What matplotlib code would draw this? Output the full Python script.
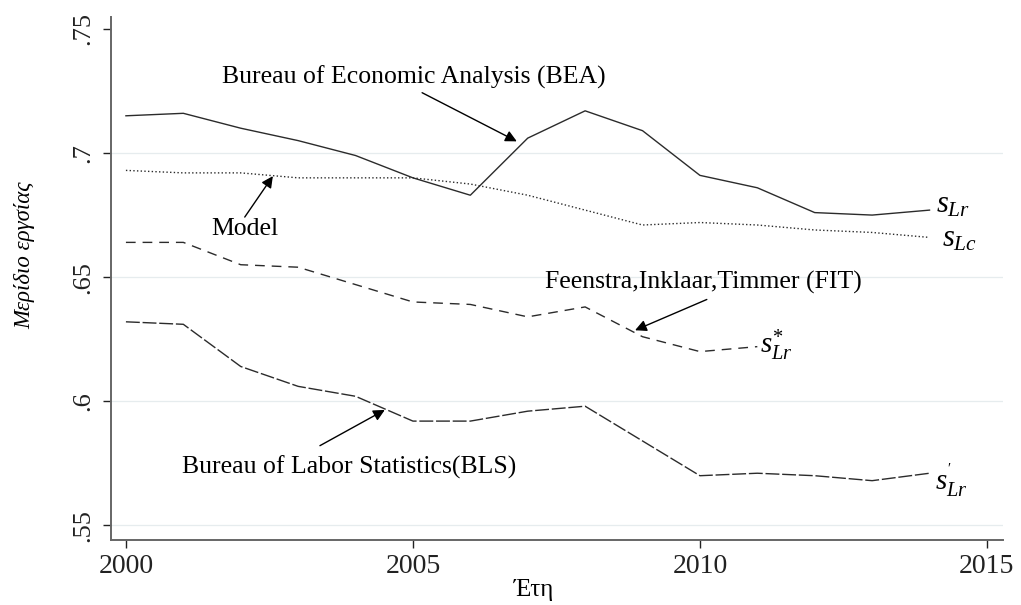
import numpy as np
import matplotlib
matplotlib.use("Agg")
import matplotlib.pyplot as plt

plt.rcParams['font.family'] = ['Liberation Serif', 'DejaVu Serif']
plt.rcParams['mathtext.fontset'] = 'custom'
plt.rcParams['mathtext.rm'] = 'Liberation Serif'
plt.rcParams['mathtext.it'] = 'Liberation Serif:italic'

years = np.arange(2000, 2015)
bea = [0.715, 0.716, 0.710, 0.705, 0.699, 0.690, 0.683, 0.706, 0.717, 0.709,
       0.691, 0.686, 0.676, 0.675, 0.677]
model = [0.693, 0.692, 0.692, 0.690, 0.690, 0.690, 0.6875, 0.683, 0.677, 0.671,
         0.672, 0.671, 0.669, 0.668, 0.666]
fit_years = np.arange(2000, 2012)
fit = [0.664, 0.664, 0.655, 0.654, 0.647, 0.640, 0.639, 0.634, 0.638, 0.626,
       0.620, 0.622]
bls = [0.632, 0.631, 0.614, 0.606, 0.602, 0.592, 0.592, 0.596, 0.598, 0.584,
       0.570, 0.571, 0.570, 0.568, 0.571]

yticks = [0.55, 0.6, 0.65, 0.7, 0.75]
ytick_labels = ['.55', '.6', '.65', '.7', '.75']
grid_levels = [0.55, 0.6, 0.65, 0.7]
xticks = [2000, 2005, 2010, 2015]

fig = plt.figure(figsize=(10.21, 6.05), dpi=100)
ax = fig.add_axes([111 / 1021, 1 - 540 / 605, (1003 - 111) / 1021, (540 - 17) / 605])

for g in grid_levels:
    ax.axhline(g, color='#e6ecee', lw=0.9, zorder=0)

lc = '#2b2b2b'
ax.plot(years, bea, '-', color=lc, lw=1.0)
ax.plot(years, model, ':', color=lc, lw=1.0)
ax.plot(fit_years, fit, color=lc, lw=1.0, dashes=(7, 5))
ax.plot(years, bls, color=lc, lw=1.0, dashes=(10, 2))

ax.set_xlim(1999.74, 2015.28)
ax.set_ylim(0.5441, 0.7548)
ax.set_yticks(yticks)
ax.set_yticklabels(ytick_labels, rotation=90, va='center')
ax.set_xticks(xticks)
ax.tick_params(axis='both', colors='#222222', length=6, width=1.0)
ax.tick_params(axis='x', labelsize=20, pad=4)
ax.tick_params(axis='y', labelsize=19, pad=6)

for s in ['top', 'right']:
    ax.spines[s].set_visible(False)
for s in ['left', 'bottom']:
    ax.spines[s].set_color('#666666')
    ax.spines[s].set_linewidth(1.4)

fig.text(25 / 1021, 1 - 255 / 605, 'Μερίδιο εργσίας', fontsize=16.5, style='italic',
         rotation=90, ha='center', va='center')
fig.text(534 / 1021, 1 - 590 / 605, 'Έτη', fontsize=18, ha='center', va='center')

# annotation labels
fs = 18.5
ax.text(2001.67, 0.7304, 'Bureau of Economic Analysis (BEA)', fontsize=fs, va='center')
ax.text(2001.48, 0.6694, 'Model', fontsize=fs, va='center')
ax.text(2007.30, 0.6478, 'Feenstra,Inklaar,Timmer (FIT)', fontsize=fs, va='center')
ax.text(2000.98, 0.5735, 'Bureau of Labor Statistics(BLS)', fontsize=fs, va='center')

ap = dict(arrowstyle='-|>', color='black', lw=1.0, mutation_scale=17, shrinkA=0, shrinkB=0)
ax.annotate('', xy=(2006.81, 0.7047), xytext=(2005.16, 0.7243), arrowprops=ap)
ax.annotate('', xy=(2002.56, 0.6907), xytext=(2002.07, 0.6742), arrowprops=ap)
ax.annotate('', xy=(2008.87, 0.6286), xytext=(2010.12, 0.6410), arrowprops=ap)
ax.annotate('', xy=(2004.51, 0.5965), xytext=(2003.38, 0.5821), arrowprops=ap)

ax.text(2014.11, 0.679, r'$s_{Lr}$', fontsize=22, va='center')
ax.text(2014.21, 0.6655, r'$s_{Lc}$', fontsize=22, va='center')
ax.text(2011.05, 0.6225, r'$s^{*}_{Lr}$', fontsize=21, va='center')
ax.text(2014.10, 0.568, r"$s^{'}_{Lr}$", fontsize=21, va='center')

fig.savefig('out.png', dpi=100)
